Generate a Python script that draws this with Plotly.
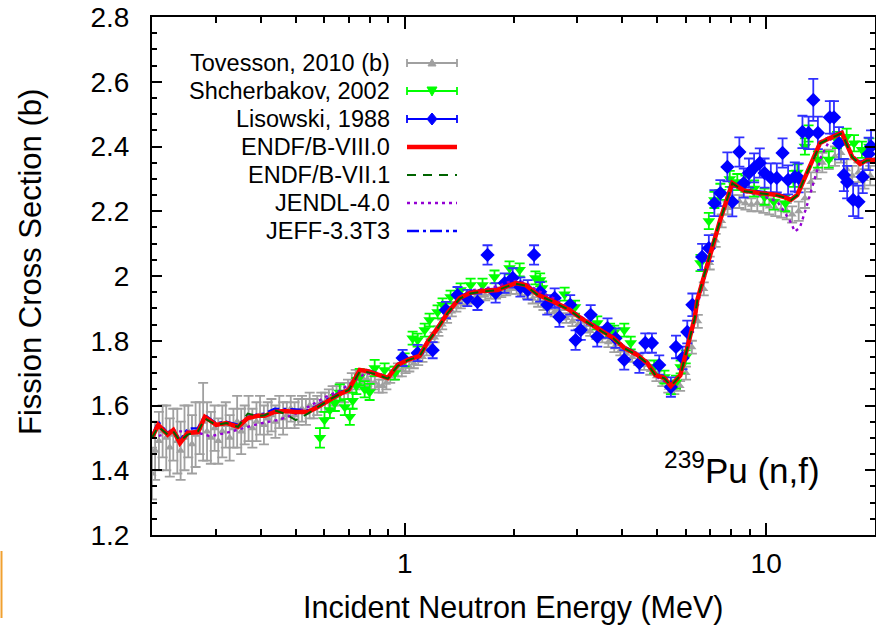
import plotly.graph_objects as go

# ---------------- data ----------------
# Tovesson, 2010 (b)
tov_E = [0.200, 0.204, 0.209, 0.214, 0.219, 0.224, 0.229, 0.235, 0.240, 0.246, 0.252, 0.258, 0.264,
         0.271, 0.277, 0.284, 0.291, 0.298, 0.305, 0.313, 0.320, 0.328, 0.336, 0.344, 0.353, 0.361,
         0.370, 0.379, 0.389, 0.398, 0.408, 0.418, 0.428, 0.439, 0.450, 0.461, 0.472, 0.484, 0.496,
         0.508, 0.520, 0.533, 0.546, 0.560, 0.573, 0.588, 0.602, 0.617, 0.632, 0.648, 0.664, 0.680,
         0.697, 0.714, 0.732, 0.750, 0.769, 0.788, 0.807, 0.827, 0.848, 0.869, 0.890, 0.912, 0.935,
         0.958, 0.982, 1.006, 1.03, 1.06, 1.09, 1.12, 1.15, 1.18, 1.21, 1.24, 1.27, 1.31, 1.35, 1.39,
         1.43, 1.47, 1.52, 1.57, 1.62, 1.67, 1.73, 1.79, 1.85, 1.91, 1.97, 2.04, 2.11, 2.18, 2.26,
         2.34, 2.42, 2.51, 2.60, 2.70, 2.80, 2.91, 3.02, 3.14, 3.26, 3.39, 3.52, 3.66, 3.80, 3.95,
         4.10, 4.26, 4.43, 4.60, 4.78, 4.97, 5.16, 5.36, 5.57, 5.78, 6.00, 6.23, 6.47, 6.72, 6.98,
         7.25, 7.53, 7.82, 8.12, 8.43, 8.76, 9.10, 9.45, 9.82, 10.2, 10.6, 11.0, 11.4, 11.8, 12.3,
         12.8, 13.3, 13.8, 14.3, 14.9, 15.5, 16.1, 16.7, 17.3, 18.0, 18.7, 19.4]
tov_s = [1.39, 1.46, 1.49, 1.52, 1.50, 1.47, 1.51, 1.49, 1.46, 1.50, 1.52, 1.48, 1.51,
         1.53, 1.55, 1.52, 1.50, 1.53, 1.49, 1.52, 1.54, 1.50, 1.53, 1.55, 1.52, 1.54,
         1.56, 1.53, 1.55, 1.57, 1.54, 1.56, 1.57, 1.55, 1.58, 1.56, 1.57, 1.59, 1.57,
         1.58, 1.59, 1.58, 1.60, 1.59, 1.60, 1.61, 1.61, 1.62, 1.63, 1.63, 1.64, 1.64,
         1.65, 1.67, 1.68, 1.69, 1.68, 1.68, 1.67, 1.67, 1.66, 1.66, 1.67, 1.69, 1.70,
         1.71, 1.71, 1.72, 1.72, 1.73, 1.74, 1.75, 1.77, 1.79, 1.81, 1.83, 1.85, 1.87, 1.89, 1.905,
         1.915, 1.925, 1.93, 1.935, 1.94, 1.94, 1.945, 1.945, 1.95, 1.955, 1.96, 1.96, 1.955, 1.945, 1.93,
         1.92, 1.91, 1.90, 1.89, 1.88, 1.87, 1.86, 1.85, 1.84, 1.83, 1.82, 1.81, 1.795, 1.78, 1.77,
         1.76, 1.75, 1.74, 1.725, 1.71, 1.69, 1.675, 1.655, 1.65, 1.66, 1.70, 1.78, 1.86, 1.96, 2.04,
         2.11, 2.17, 2.21, 2.23, 2.23, 2.225, 2.22, 2.225, 2.22, 2.215, 2.21, 2.205, 2.20, 2.19, 2.20,
         2.24, 2.29, 2.33, 2.35, 2.36, 2.37, 2.38, 2.33, 2.31, 2.32, 2.30, 2.31]
tov_err = [0.08, 0.09, 0.09, 0.08, 0.10, 0.09, 0.08, 0.10, 0.09, 0.10, 0.08, 0.09, 0.10,
           0.08, 0.12, 0.09, 0.08, 0.07, 0.07, 0.08, 0.07, 0.07, 0.06, 0.08, 0.07, 0.06,
           0.07, 0.06, 0.06, 0.06, 0.06, 0.05, 0.05, 0.05, 0.05, 0.05, 0.04, 0.04, 0.04,
           0.04, 0.04, 0.04, 0.04, 0.03, 0.03, 0.03, 0.03, 0.03, 0.03, 0.03, 0.03, 0.03,
           0.03, 0.03, 0.03, 0.02, 0.02, 0.02, 0.02, 0.02, 0.02, 0.02, 0.02, 0.02, 0.02,
           0.02, 0.02, 0.02, 0.015, 0.015, 0.015, 0.015, 0.015, 0.015, 0.015, 0.015, 0.015, 0.015, 0.015, 0.015,
           0.015, 0.015, 0.015, 0.015, 0.015, 0.015, 0.015, 0.015, 0.015, 0.015, 0.015, 0.015, 0.015, 0.015, 0.015,
           0.015, 0.015, 0.015, 0.015, 0.015, 0.015, 0.015, 0.015, 0.015, 0.015, 0.015, 0.015, 0.015, 0.015, 0.015,
           0.015, 0.015, 0.015, 0.015, 0.015, 0.015, 0.015, 0.015, 0.015, 0.015, 0.02, 0.02, 0.02, 0.02, 0.02,
           0.02, 0.02, 0.02, 0.02, 0.02, 0.02, 0.02, 0.025, 0.025, 0.025, 0.025, 0.025, 0.025, 0.025, 0.03,
           0.03, 0.03, 0.03, 0.03, 0.03, 0.03, 0.03, 0.03, 0.03, 0.03, 0.03, 0.03]

# Shcherbakov, 2002
sch_E = [0.583, 0.600, 0.621, 0.641, 0.661, 0.683, 0.705, 0.718, 0.735, 0.751, 0.775, 0.800, 0.826,
         0.880, 0.940, 1.000, 1.052, 1.086, 1.136, 1.172, 1.233, 1.273, 1.340, 1.428, 1.522, 1.642,
         1.772, 1.950, 2.080, 2.300, 2.370, 2.400, 2.770, 2.960, 3.410, 3.700, 3.800, 4.050, 4.220,
         4.900, 5.230, 5.450, 5.630, 5.800, 5.990, 6.580, 6.940, 7.190, 7.470, 7.930, 8.320, 8.760,
         9.260, 9.900, 10.50, 11.30, 11.90, 12.20, 12.80, 13.10, 13.90, 14.90, 15.70, 16.70, 17.50,
         18.40, 19.30]
sch_s = [1.50, 1.555, 1.586, 1.608, 1.64, 1.595, 1.565, 1.615, 1.66, 1.688, 1.65, 1.642, 1.716,
         1.71, 1.70, 1.741, 1.808, 1.802, 1.833, 1.864, 1.889, 1.911, 1.935, 1.957, 1.972, 1.972,
         1.997, 2.025, 2.019, 1.994, 1.988, 1.963, 1.944, 1.904, 1.855, 1.833, 1.827, 1.833, 1.793,
         1.719, 1.688, 1.655, 1.672, 1.719, 1.75, 2.04, 2.17, 2.235, 2.26, 2.30, 2.29, 2.285,
         2.27, 2.245, 2.23, 2.225, 2.30, 2.32, 2.40, 2.44, 2.36, 2.36, 2.42, 2.43, 2.41,
         2.39, 2.40]
sch_err = [0.03, 0.025, 0.025, 0.025, 0.025, 0.025, 0.025, 0.025, 0.025, 0.025, 0.025, 0.025, 0.025,
           0.02, 0.02, 0.02, 0.02, 0.02, 0.02, 0.02, 0.02, 0.02, 0.02, 0.02, 0.02, 0.02,
           0.02, 0.02, 0.02, 0.02, 0.02, 0.02, 0.02, 0.02, 0.02, 0.02, 0.02, 0.02, 0.02,
           0.02, 0.02, 0.02, 0.02, 0.02, 0.02, 0.025, 0.025, 0.025, 0.025, 0.025, 0.025, 0.025,
           0.025, 0.025, 0.025, 0.025, 0.025, 0.025, 0.025, 0.025, 0.025, 0.025, 0.025, 0.025, 0.025,
           0.025, 0.025]

# Lisowski, 1988
lis_E = [0.987, 1.086, 1.195, 1.30, 1.40, 1.49, 1.59, 1.695, 1.785, 1.89, 1.99, 2.09, 2.19, 2.28,
         2.37, 2.48, 2.60, 2.68, 2.87, 2.97, 3.07, 3.27, 3.41, 3.64, 3.83, 4.05, 4.46, 4.63, 4.83,
         5.06, 5.45, 5.63, 5.87, 6.05, 6.25, 6.65, 6.94, 7.19, 7.47, 7.81, 8.06, 8.43, 8.67, 8.96,
         9.26, 9.60, 9.90, 10.3, 10.7, 11.1, 11.5, 12.0, 12.3, 12.6, 13.1, 13.5, 13.9, 15.0, 15.4,
         15.9, 16.4, 16.75, 17.4, 18.0, 18.5, 19.2, 19.5]
lis_s = [1.747, 1.762, 1.771, 1.895, 1.941, 1.932, 1.92, 2.065, 1.948, 1.978, 1.994, 1.966, 1.957, 2.065,
         1.951, 1.911, 1.932, 1.873, 1.911, 1.802, 1.833, 1.88, 1.812, 1.839, 1.808, 1.741, 1.731, 1.793, 1.793,
         1.725, 1.657, 1.781, 1.747, 1.827, 1.911, 2.059, 2.086, 2.225, 2.256, 2.337, 2.229, 2.383, 2.287, 2.318,
         2.334, 2.349, 2.318, 2.303, 2.303, 2.38, 2.297, 2.306, 2.303, 2.445, 2.442, 2.544, 2.442, 2.49, 2.49,
         2.41, 2.312, 2.29, 2.235, 2.229, 2.306, 2.377, 2.40]
lis_err = [0.025, 0.025, 0.025, 0.025, 0.025, 0.025, 0.025, 0.03, 0.03, 0.03, 0.03, 0.03, 0.03, 0.03,
           0.03, 0.03, 0.03, 0.03, 0.03, 0.03, 0.03, 0.03, 0.03, 0.03, 0.03, 0.03, 0.03, 0.03, 0.03,
           0.03, 0.03, 0.035, 0.035, 0.035, 0.035, 0.04, 0.04, 0.04, 0.04, 0.045, 0.045, 0.045, 0.045, 0.045,
           0.045, 0.045, 0.045, 0.045, 0.045, 0.045, 0.045, 0.045, 0.045, 0.05, 0.05, 0.065, 0.05, 0.05, 0.05,
           0.05, 0.05, 0.05, 0.05, 0.05, 0.05, 0.05, 0.05]

# Evaluations
eval_E = [0.2, 0.208, 0.221, 0.229, 0.239, 0.251, 0.268, 0.280, 0.301, 0.321, 0.346, 0.368, 0.392,
          0.410, 0.437, 0.465, 0.500, 0.540, 0.575, 0.613, 0.660, 0.700, 0.751, 0.790, 0.842, 0.898,
          0.956, 1.02, 1.10, 1.157, 1.233, 1.314, 1.42, 1.52, 1.65, 1.807, 1.925, 2.03, 2.16, 2.33,
          2.59, 2.86, 3.07, 3.41, 3.78, 4.05, 4.40, 4.69, 4.94, 5.23, 5.45, 5.79, 6.05, 6.34, 6.45,
          7.0, 7.46, 8.06, 8.70, 9.63, 10.73, 11.2, 11.7, 12.19, 12.8, 13.6, 14.1, 15.0, 16.2, 17.3,
          18.2, 19.0, 20.0]
endf8_s = [1.50, 1.54, 1.51, 1.524, 1.484, 1.515, 1.518, 1.565, 1.54, 1.546, 1.534, 1.561, 1.568,
           1.568, 1.58, 1.583, 1.58, 1.58, 1.595, 1.615, 1.635, 1.648, 1.71, 1.706, 1.697, 1.685,
           1.725, 1.741, 1.753, 1.796, 1.839, 1.886, 1.932, 1.948, 1.954, 1.957, 1.969, 1.978, 1.972, 1.943,
           1.92, 1.895, 1.87, 1.839, 1.808, 1.778, 1.756, 1.731, 1.694, 1.685, 1.66, 1.694, 1.781, 1.87, 1.926,
           2.071, 2.173, 2.287, 2.263, 2.256, 2.25, 2.244, 2.235, 2.25, 2.306, 2.368, 2.411, 2.426, 2.442, 2.368,
           2.346, 2.358, 2.358]
endf7_s = [1.50, 1.535, 1.51, 1.52, 1.49, 1.51, 1.52, 1.56, 1.54, 1.546, 1.534, 1.575, 1.568,
           1.57, 1.585, 1.575, 1.555, 1.575, 1.595, 1.615, 1.635, 1.648, 1.705, 1.703, 1.695, 1.683,
           1.722, 1.74, 1.752, 1.795, 1.838, 1.885, 1.93, 1.946, 1.952, 1.956, 1.968, 1.976, 1.97, 1.942,
           1.919, 1.894, 1.869, 1.838, 1.807, 1.777, 1.755, 1.73, 1.693, 1.684, 1.66, 1.693, 1.78, 1.868, 1.925,
           2.07, 2.172, 2.286, 2.262, 2.255, 2.249, 2.243, 2.234, 2.249, 2.305, 2.367, 2.41, 2.425, 2.441, 2.367,
           2.345, 2.357, 2.357]
jeff_s = [1.505, 1.55, 1.515, 1.53, 1.492, 1.528, 1.53, 1.57, 1.545, 1.55, 1.54, 1.565, 1.572,
          1.575, 1.59, 1.59, 1.588, 1.585, 1.60, 1.62, 1.64, 1.652, 1.712, 1.709, 1.70, 1.688,
          1.728, 1.745, 1.757, 1.80, 1.843, 1.89, 1.936, 1.952, 1.958, 1.961, 1.972, 1.981, 1.975, 1.947,
          1.924, 1.898, 1.874, 1.843, 1.812, 1.782, 1.76, 1.735, 1.698, 1.688, 1.663, 1.697, 1.785, 1.874, 1.93,
          2.075, 2.177, 2.29, 2.267, 2.26, 2.254, 2.248, 2.239, 2.254, 2.31, 2.372, 2.415, 2.43, 2.446, 2.372,
          2.35, 2.362, 2.362]
jendl_E = [0.2, 0.23, 0.26, 0.29, 0.32, 0.36, 0.40, 0.45, 0.50, 0.55, 0.60, 0.66, 0.72, 0.78, 0.842,
           0.898, 0.956, 1.02, 1.10, 1.157, 1.233, 1.314, 1.42, 1.52, 1.65, 1.807, 1.925, 2.03, 2.16,
           2.33, 2.59, 2.86, 3.07, 3.41, 3.78, 4.05, 4.40, 4.69, 4.94, 5.23, 5.45, 5.79, 6.05, 6.34,
           6.45, 7.0, 7.46, 8.06, 8.70, 9.63, 10.73, 11.2, 11.7, 12.0, 12.4, 12.9, 13.6, 14.2, 15.0,
           16.2, 17.3, 18.2, 19.0, 20.0]
jendl_s = [1.50, 1.52, 1.52, 1.505, 1.515, 1.53, 1.545, 1.556, 1.575, 1.60, 1.625, 1.645, 1.675, 1.70, 1.695,
           1.685, 1.722, 1.74, 1.755, 1.79, 1.835, 1.886, 1.935, 1.955, 1.962, 1.968, 1.98, 1.985, 1.98,
           1.955, 1.93, 1.90, 1.875, 1.84, 1.808, 1.778, 1.752, 1.725, 1.69, 1.675, 1.655, 1.69, 1.77, 1.86,
           1.91, 2.06, 2.17, 2.28, 2.26, 2.25, 2.23, 2.20, 2.165, 2.137, 2.15, 2.21, 2.30, 2.37, 2.42,
           2.44, 2.37, 2.345, 2.355, 2.355]

legend_labels = ["Tovesson, 2010 (b)", "Shcherbakov, 2002", "Lisowski, 1988",
                 "ENDF/B-VIII.0", "ENDF/B-VII.1", "JENDL-4.0", "JEFF-3.3T3"]

x_tick_vals = [1, 10]
x_tick_text = ["1", "10"]
x_minor_vals = [0.2, 0.3, 0.4, 0.5, 0.6, 0.7, 0.8, 0.9, 2, 3, 4, 5, 6, 7, 8, 9, 20]

# ---------------- styles / layout geometry ----------------
W, H = 876, 629
ML, MR, MT, MB = 152, 1, 17, 94
PW, PH = W - ML - MR, H - MT - MB

GRAY = "#a0a0a0"
GREEN = "#00ff00"
BLUE = "#0000ff"
RED = "#ff0000"
DKGREEN = "#006400"
PURPLE = "#9400d3"
JEFFBLUE = "#0000ff"
FONT = "Liberation Sans, Arial, Helvetica, sans-serif"


def px(xp):  # pixel x -> paper x
    return (xp - ML) / PW


def py(yp):  # pixel y -> paper y
    return (H - MB - yp) / PH


fig = go.Figure()

fig.add_trace(go.Scatter(
    x=tov_E, y=tov_s, mode="markers",
    marker=dict(symbol="triangle-up", size=8, color=GRAY),
    error_y=dict(type="data", array=tov_err, color=GRAY, thickness=1.8, width=5),
    showlegend=False))
fig.add_trace(go.Scatter(
    x=sch_E, y=sch_s, mode="markers",
    marker=dict(symbol="triangle-down", size=11, color=GREEN),
    error_y=dict(type="data", array=sch_err, color=GREEN, thickness=1.8, width=5),
    showlegend=False))
fig.add_trace(go.Scatter(
    x=lis_E, y=lis_s, mode="markers",
    marker=dict(symbol="diamond", size=11, color=BLUE),
    error_y=dict(type="data", array=lis_err, color="#3030ff", thickness=1.8, width=5),
    showlegend=False))

fig.add_trace(go.Scatter(x=eval_E, y=jeff_s, mode="lines",
                         line=dict(color=JEFFBLUE, width=2.5, dash="12px,4px,3px,4px"), showlegend=False))
fig.add_trace(go.Scatter(x=jendl_E, y=jendl_s, mode="lines",
                         line=dict(color=PURPLE, width=2.4, dash="3px,4px"), showlegend=False))
fig.add_trace(go.Scatter(x=eval_E, y=endf8_s, mode="lines",
                         line=dict(color=RED, width=4.5), showlegend=False))
fig.add_trace(go.Scatter(x=eval_E, y=endf7_s, mode="lines",
                         line=dict(color=DKGREEN, width=2, dash="9px,7px"), showlegend=False))

# ---------------- custom legend (text left, sample right) ----------------
row_px = [63, 91, 119, 147, 175, 203, 231]
sx0, sx1, sxm, tx = 407, 457, 432, 392
sample_styles = [
    dict(color=GRAY, width=1.8, dash="solid"),
    dict(color=GREEN, width=1.8, dash="solid"),
    dict(color=BLUE, width=1.8, dash="solid"),
    dict(color=RED, width=4.5, dash="solid"),
    dict(color=DKGREEN, width=2, dash="9px,7px"),
    dict(color=PURPLE, width=2.4, dash="3px,4px"),
    dict(color=JEFFBLUE, width=2.5, dash="12px,4px,3px,4px"),
]
glyphs = [  # pixel offsets (dx, dy) of legend glyph outlines, y downward
    [(0, -4), (4, 3), (-4, 3)],
    [(0, 5), (5, -4), (-5, -4)],
    [(0, -6), (5, 0), (0, 6), (-5, 0)],
]
glyph_colors = [GRAY, GREEN, BLUE]

shapes = []
annotations = []
for i, (lab, yy, st) in enumerate(zip(legend_labels, row_px, sample_styles)):
    annotations.append(dict(x=px(tx), y=py(yy), xref="paper", yref="paper", text=lab, showarrow=False,
                            xanchor="right", yanchor="middle",
                            font=dict(family=FONT, size=23.5, color="black")))
    shapes.append(dict(type="line", xref="paper", yref="paper", x0=px(sx0), x1=px(sx1),
                       y0=py(yy), y1=py(yy), line=st))
    if i < 3:
        for xc in (sx0, sx1):
            shapes.append(dict(type="line", xref="paper", yref="paper", x0=px(xc), x1=px(xc),
                               y0=py(yy - 4), y1=py(yy + 4), line=dict(color=st["color"], width=1.8)))
        pts = glyphs[i]
        path = "M " + " L ".join(f"{px(sxm + dx):.5f},{py(yy + dy):.5f}" for dx, dy in pts) + " Z"
        shapes.append(dict(type="path", xref="paper", yref="paper", path=path,
                           fillcolor=glyph_colors[i], line=dict(color=glyph_colors[i], width=1)))

annotations.append(dict(x=px(742), y=py(468), xref="paper", yref="paper",
                        text="<sup>239</sup>Pu (n,f)", showarrow=False, xanchor="center", yanchor="middle",
                        font=dict(family=FONT, size=35, color="black")))

# axis titles placed as annotations for exact positioning
annotations.append(dict(x=px(513), y=py(607), xref="paper", yref="paper",
                        text="Incident Neutron Energy (MeV)", showarrow=False,
                        xanchor="center", yanchor="middle",
                        font=dict(family=FONT, size=30.5, color="black")))
annotations.append(dict(x=px(30), y=py(262), xref="paper", yref="paper",
                        text="Fission Cross Section (b)", showarrow=False, textangle=-90,
                        xanchor="center", yanchor="middle",
                        font=dict(family=FONT, size=31, color="black")))

# small orange mark at bottom left edge of the picture
shapes.append(dict(type="line", xref="paper", yref="paper", x0=px(1.5), x1=px(1.5),
                   y0=py(551), y1=py(618), line=dict(color="#f0a030", width=2)))

fig.update_layout(
    width=W, height=H,
    margin=dict(l=ML, r=MR, t=MT, b=MB, autoexpand=False),
    paper_bgcolor="white", plot_bgcolor="white",
    font=dict(family=FONT, size=28, color="black"),
    shapes=shapes, annotations=annotations,
    showlegend=False,
    xaxis=dict(type="log", range=[-0.69897, 1.30103], automargin=False,
               tickvals=x_tick_vals, ticktext=x_tick_text,
               ticks="inside", ticklen=12, tickwidth=1.5, tickcolor="black",
               minor=dict(tickvals=x_minor_vals, ticks="inside", ticklen=6, tickwidth=1.5, tickcolor="black"),
               showline=True, linecolor="black", linewidth=2, mirror="allticks",
               showgrid=False, zeroline=False, ticklabelstandoff=2,
               tickfont=dict(size=28)),
    yaxis=dict(range=[1.2, 2.8], tick0=1.2, dtick=0.2, automargin=False,
               ticks="inside", ticklen=10, tickwidth=1.5, tickcolor="black",
               minor=dict(dtick=0.05, ticks="inside", ticklen=5, tickwidth=1.5, tickcolor="black"),
               showline=True, linecolor="black", linewidth=2, mirror="allticks",
               showgrid=False, zeroline=False,
               tickfont=dict(size=28), ticklabelstandoff=15),
)

fig.write_html("out.html", config={"displayModeBar": False},
               post_script="document.body.style.margin='0px';")
